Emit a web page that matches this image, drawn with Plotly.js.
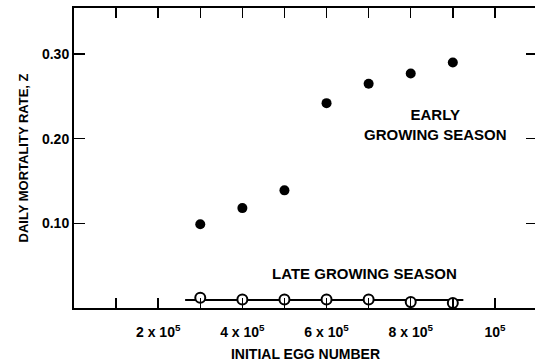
<!DOCTYPE html>
<html>
<head>
<meta charset="utf-8">
<script src="https://cdn.plot.ly/plotly-3.0.1.min.js"></script>
<style>
html, body { margin: 0; padding: 0; overflow: hidden; background: #fff; }
#chart { width: 540px; height: 364px; }
</style>
</head>
<body>
<div id="chart"></div>
<script>
// Data
const eggNumber = [300000, 400000, 500000, 600000, 700000, 800000, 900000];
const earlyZ = [0.099, 0.118, 0.139, 0.242, 0.265, 0.277, 0.290];
const lateZ = [0.012, 0.010, 0.010, 0.010, 0.010, 0.007, 0.006];
const lateFitX = [264000, 925000];
const lateFitZ = [0.0094, 0.0094];

const xTickVals = [200000, 400000, 600000, 800000, 1000000];
const xTickText = ['2 x 10<sup>5</sup>', '4 x 10<sup>5</sup>', '6 x 10<sup>5</sup>', '8 x 10<sup>5</sup>', '10<sup>5</sup>'];
const yTickVals = [0.10, 0.20, 0.30];
const yTickText = ['0.10', '0.20', '0.30'];

const FONT = 'Liberation Sans, Arial, Helvetica, sans-serif';
const f = (size) => ({ family: FONT, size: size, color: '#000', weight: 'bold' });

const traces = [
  {
    x: lateFitX, y: lateFitZ, type: 'scatter', mode: 'lines',
    line: { color: '#000', width: 2 }, hoverinfo: 'skip', showlegend: false
  },
  {
    x: eggNumber, y: earlyZ, type: 'scatter', mode: 'markers', name: 'Early growing season',
    marker: { color: '#000', size: 10, line: { width: 0 } }, showlegend: false
  },
  {
    x: eggNumber, y: lateZ, type: 'scatter', mode: 'markers', name: 'Late growing season',
    marker: { color: '#fff', size: 10, line: { color: '#000', width: 2 } }, showlegend: false
  }
];

const layout = {
  width: 540, height: 364,
  margin: { l: 74, r: 3, t: 8, b: 56 },
  paper_bgcolor: '#fff', plot_bgcolor: '#fff',
  font: f(14),
  showlegend: false,
  xaxis: {
    range: [0, 1100000],
    showgrid: false, zeroline: false,
    showline: true, linecolor: '#000', linewidth: 2, mirror: 'ticks',
    ticks: 'inside', ticklen: 10, tickwidth: 1.5, tickcolor: '#000',
    tickmode: 'array', tickvals: xTickVals, ticktext: xTickText,
    minor: { dtick: 100000, tick0: 0, ticks: 'inside', ticklen: 10, tickwidth: 1.5, tickcolor: '#000', showgrid: false },
    ticklabelstandoff: 10,
    tickfont: f(14),
    title: { text: 'INITIAL EGG NUMBER', font: f(14), standoff: 10 }
  },
  yaxis: {
    range: [0, 0.3544],
    showgrid: false, zeroline: false,
    showline: true, linecolor: '#000', linewidth: 2, mirror: 'ticks',
    ticks: 'inside', ticklen: 11, tickwidth: 1.5, tickcolor: '#000',
    tickmode: 'array', tickvals: yTickVals, ticktext: yTickText,
    tickfont: f(14),
    title: { text: 'DAILY MORTALITY RATE, Z', font: f(13), standoff: 10 }
  },
  annotations: [
    {
      x: 860000, y: 0.2165, xref: 'x', yref: 'y', showarrow: false,
      text: 'EARLY<br>GROWING SEASON', align: 'center', font: f(15)
    },
    {
      x: 691000, y: 0.0413, xref: 'x', yref: 'y', showarrow: false,
      text: 'LATE GROWING SEASON', font: f(15)
    }
  ]
};

Plotly.newPlot('chart', traces, layout, { displayModeBar: false, staticPlot: true });
</script>
</body>
</html>
